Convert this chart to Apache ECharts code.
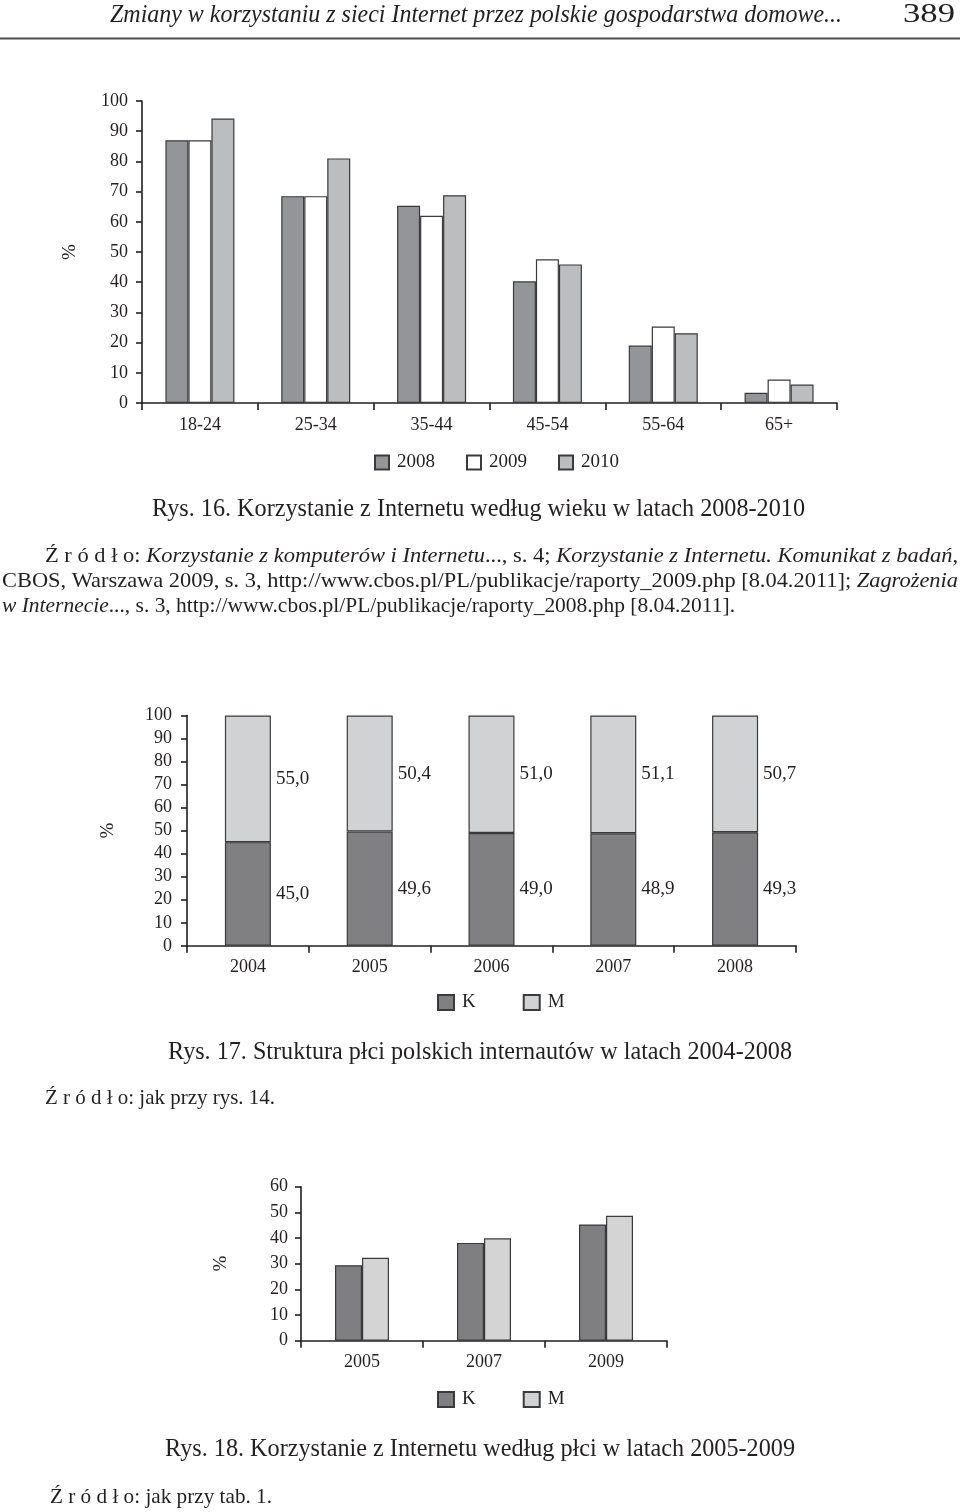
<!DOCTYPE html>
<html>
<head>
<meta charset="utf-8">
<script src="https://cdn.jsdelivr.net/npm/echarts@6/dist/echarts.min.js"></script>
<style>
html,body{margin:0;padding:0;background:#fff;}
#main{width:960px;height:1512px;}
</style>
</head>
<body>
<div id="main"></div>
<script>
// ---- Data ----
const ageCategories = ['18-24', '25-34', '35-44', '45-54', '55-64', '65+'];
const age2008 = [87, 68.5, 65.3, 40.3, 19.0, 3.4];
const age2009 = [87, 68.5, 62.0, 47.6, 25.3, 7.8];
const age2010 = [94.2, 81.0, 68.8, 45.9, 23.1, 6.1];

const structYears = ['2004', '2005', '2006', '2007', '2008'];
const structK = [45.0, 49.6, 49.0, 48.9, 49.3];
const structM = [55.0, 50.4, 51.0, 51.1, 50.7];

const genderYears = ['2005', '2007', '2009'];
const genderK = [29.4, 38.1, 45.3];
const genderM = [32.3, 39.9, 48.7];

// ---- Helpers ----
const SERIF = '"Liberation Serif", "Times New Roman", serif';
const INK = '#231f20';
const ctx = document.createElement('canvas').getContext('2d');
function fontStr(size, italic) { return (italic ? 'italic ' : '') + size + 'px ' + SERIF; }
function textLine(segs, x0, x1, y, size) {
  let cum = 0;
  const children = segs.map(([t, it]) => {
    ctx.font = fontStr(size, it);
    const el = {
      type: 'text', x: cum, y: 0,
      style: { text: t, font: fontStr(size, it), fill: INK,
        align: 'left', verticalAlign: 'middle', textAlign: 'left', textVerticalAlign: 'middle' }
    };
    cum += ctx.measureText(t).width;
    return el;
  });
  const s = (x1 - x0) / cum;
  return { type: 'group', x: x0, y: y, scaleX: s, scaleY: 1, children: children, silent: true };
}

const axisLineStyle = { color: INK, width: 1.6 };
const tickLabel = { fontFamily: SERIF, fontSize: 18, color: INK };

function yAxisCfg(gridIndex, max, gap, margin) {
  return {
    type: 'value', gridIndex: gridIndex, min: 0, max: max, interval: 10,
    name: '%', nameLocation: 'middle', nameGap: gap, nameRotate: 90,
    nameTextStyle: { fontFamily: SERIF, fontSize: 19, color: INK },
    axisLine: { show: true, lineStyle: axisLineStyle },
    axisTick: { show: true, length: 6, lineStyle: axisLineStyle },
    axisLabel: Object.assign({ margin: margin }, tickLabel),
    splitLine: { show: false }
  };
}
function xAxisCfg(gridIndex, data, margin) {
  return {
    type: 'category', gridIndex: gridIndex, data: data, boundaryGap: true,
    axisLine: { show: true, lineStyle: axisLineStyle },
    axisTick: { show: true, length: 7, lineStyle: axisLineStyle },
    axisLabel: Object.assign({ margin: margin }, tickLabel),
    splitLine: { show: false }
  };
}
const border = { borderColor: '#3a3a3a', borderWidth: 1.2 };
function fmt(v) { return v.toFixed(1).replace('.', ','); }

const legendText = { fontFamily: SERIF, fontSize: 19, color: INK, padding: [0, 0, 0, 3] };

const option = {
  backgroundColor: '#ffffff',
  animation: false,
  grid: [
    { left: 142, top: 101, width: 695, height: 302 },
    { left: 187, top: 715.5, width: 609, height: 230.3 },
    { left: 301, top: 1186.7, width: 366, height: 154 }
  ],
  xAxis: [xAxisCfg(0, ageCategories, 13), xAxisCfg(1, structYears, 12), xAxisCfg(2, genderYears, 13)],
  yAxis: [yAxisCfg(0, 100, 62, 14), yAxisCfg(1, 100, 69, 15), yAxisCfg(2, 60, 70, 13)],
  legend: [
    { left: 369, top: 448, itemWidth: 14, itemHeight: 14, itemGap: 31, icon: 'rect',
      textStyle: legendText, data: ['2008', '2009', '2010'], selectedMode: false },
    { left: 432, top: 988, itemWidth: 16, itemHeight: 15, itemGap: 47, icon: 'rect',
      textStyle: legendText, data: ['K', 'M'], selectedMode: false },
    { left: 432, top: 1385, itemWidth: 16, itemHeight: 15, itemGap: 47, icon: 'rect',
      textStyle: legendText, data: ['K', 'M'], selectedMode: false }
  ],
  series: [
    { name: '2008', type: 'bar', xAxisIndex: 0, yAxisIndex: 0, data: age2008, barWidth: 23, barGap: '0%',
      itemStyle: Object.assign({ color: '#939598' }, border) },
    { name: '2009', type: 'bar', xAxisIndex: 0, yAxisIndex: 0, data: age2009, barWidth: 23, barGap: '0%',
      itemStyle: Object.assign({ color: '#ffffff' }, border) },
    { name: '2010', type: 'bar', xAxisIndex: 0, yAxisIndex: 0, data: age2010, barWidth: 23, barGap: '0%',
      itemStyle: Object.assign({ color: '#bcbdbf' }, border) },

    { name: 'K', type: 'bar', xAxisIndex: 1, yAxisIndex: 1, data: structK, stack: 's', barWidth: 46,
      itemStyle: Object.assign({ color: '#808083' }, border),
      label: { show: true, position: 'right', distance: 5, formatter: p => fmt(p.value),
        fontFamily: SERIF, fontSize: 19, color: INK } },
    { name: 'M', type: 'bar', xAxisIndex: 1, yAxisIndex: 1, data: structM, stack: 's', barWidth: 46,
      itemStyle: Object.assign({ color: '#d1d2d3' }, border),
      label: { show: true, position: 'right', distance: 5, formatter: p => fmt(p.value),
        fontFamily: SERIF, fontSize: 19, color: INK } },

    { name: 'K', type: 'bar', xAxisIndex: 2, yAxisIndex: 2, data: genderK, barWidth: 27, barGap: '0%',
      itemStyle: Object.assign({ color: '#7f7f82' }, border) },
    { name: 'M', type: 'bar', xAxisIndex: 2, yAxisIndex: 2, data: genderM, barWidth: 27, barGap: '0%',
      itemStyle: Object.assign({ color: '#d4d4d5' }, border) }
  ],
  graphic: [
    textLine([['Zmiany w korzystaniu z sieci Internet przez polskie gospodarstwa domowe...', 1]], 110, 842, 15, 25),
    textLine([['389', 0]], 903, 955, 15, 27),
    { type: 'rect', shape: { x: 0, y: 37.5, width: 960, height: 2 }, style: { fill: '#4d4d4d' }, silent: true },

    textLine([['Rys. 16. Korzystanie z Internetu według wieku w latach 2008-2010', 0]], 152, 805, 509, 26),
    textLine([['Ź r ó d ł o: ', 0], ['Korzystanie z komputerów i Internetu', 1], ['..., s. 4; ', 0],
              ['Korzystanie z Internetu. Komunikat z badań', 1], [',', 0]], 45, 958, 556, 21),
    textLine([['CBOS, Warszawa 2009, s. 3, http://www.cbos.pl/PL/publikacje/raporty_2009.php [8.04.2011]; ', 0],
              ['Zagrożenia', 1]], 2, 958, 581, 21),
    textLine([['w Internecie', 1], ['..., s. 3, http://www.cbos.pl/PL/publikacje/raporty_2008.php [8.04.2011].', 0]], 2, 735, 606, 21),

    textLine([['Rys. 17. Struktura płci polskich internautów w latach 2004-2008', 0]], 168, 792, 1052, 26),
    textLine([['Ź r ó d ł o: jak przy rys. 14.', 0]], 45, 275, 1098, 22),

    textLine([['Rys. 18. Korzystanie z Internetu według płci w latach 2005-2009', 0]], 165, 795, 1449, 26),
    textLine([['Ź r ó d ł o: jak przy tab. 1.', 0]], 50, 272, 1497, 22)
  ]
};

const chart = echarts.init(document.getElementById('main'), null, { renderer: 'canvas' });
chart.setOption(option);
</script>
</body>
</html>
